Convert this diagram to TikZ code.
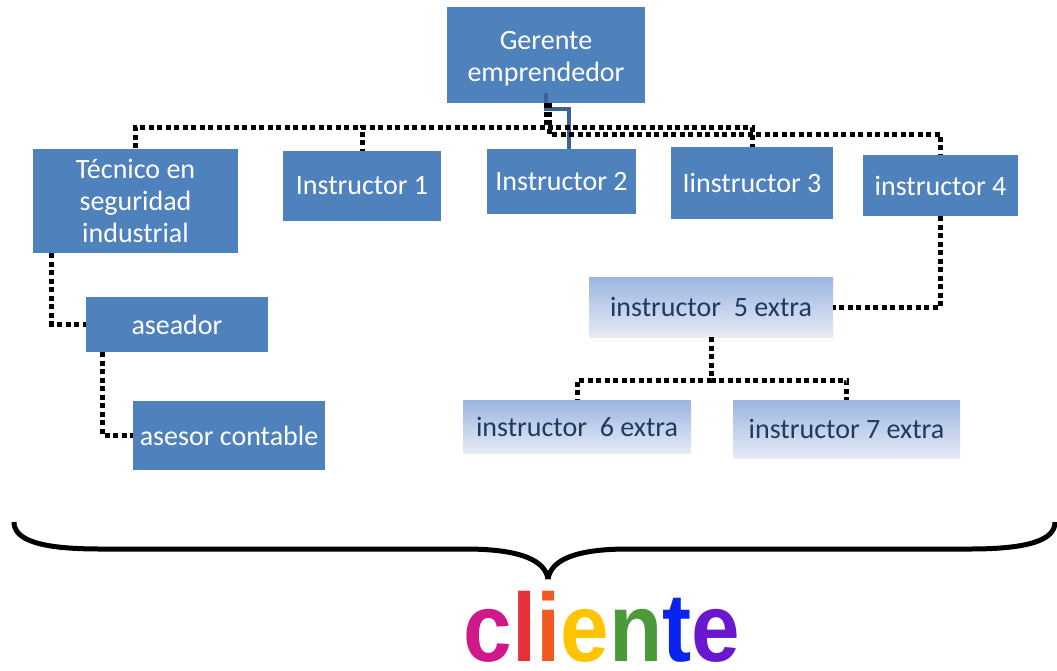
\documentclass[tikz,border=0pt]{standalone}
\usepackage{fontspec}
\usepackage{graphicx}
\setmainfont{Carlito}
\newfontfamily\clifont{Liberation Sans}
\definecolor{boxblue}{HTML}{4F81BD}
\definecolor{linkblue}{HTML}{3A6496}
\definecolor{gtop}{HTML}{9CB5E0}
\definecolor{gbot}{HTML}{E6EBF6}
\definecolor{navytxt}{HTML}{1F3A60}
\definecolor{cA}{HTML}{D0188A}
\definecolor{cB}{HTML}{E8303A}
\definecolor{cC}{HTML}{F05A20}
\definecolor{cD}{HTML}{FFC400}
\definecolor{cE}{HTML}{4A9A3A}
\definecolor{cF}{HTML}{0A24F0}
\definecolor{cG}{HTML}{6A18D0}
\tikzset{
  orgbox/.style={fill=boxblue, text=white, font=\fontsize{28}{32}\selectfont, align=center, inner sep=0pt},
  extrabox/.style={top color=gtop, bottom color=gbot, text=navytxt, font=\fontsize{28}{32}\selectfont, align=center, inner sep=0pt},
  dotlink/.style={line width=5pt, dash pattern=on 5pt off 3.5pt, black},
  bluelink/.style={line width=4pt, linkblue},
  bracestroke/.style={line width=5pt, black}
}
\begin{document}
\begin{tikzpicture}[x=1pt,y=-1pt]
\useasboundingbox (0,0) rectangle (1057,670);
% nodes
\node[orgbox, minimum width=198pt, minimum height=96pt] (ger) at (546,55) {\rule{0pt}{26pt}Gerente\\emprendedor};
\node[orgbox, minimum width=205pt, minimum height=104pt] (tec) at (135.5,201) {Técnico en\\seguridad\\industrial};
\node[orgbox, minimum width=158pt, minimum height=70pt] (i1) at (362,186) {Instructor 1};
\node[orgbox, minimum width=149pt, minimum height=65pt] (i2) at (561.5,181.5) {Instructor 2};
\node[orgbox, minimum width=162pt, minimum height=72pt] (i3) at (752,183) {Iinstructor 3};
\node[orgbox, minimum width=155pt, minimum height=61pt] (i4) at (940.5,185.5) {instructor 4};
\node[orgbox, minimum width=182pt, minimum height=55pt] (ase) at (177,324.5) {aseador};
\node[orgbox, minimum width=192pt, minimum height=69pt] (ases) at (229,435.5) {asesor contable};
\node[extrabox, minimum width=244pt, minimum height=60pt] (i5) at (711,307) {instructor\ \ 5 extra};
\node[extrabox, minimum width=228pt, minimum height=53pt] (i6) at (577,426.5) {instructor\ \ 6 extra};
\node[extrabox, minimum width=227pt, minimum height=58pt] (i7) at (846.5,429) {instructor 7 extra};
% connectors
\draw[bluelink] ([yshift=10pt]ger.south) -- ++(0,16) -| ([xshift=7pt]i2.north);
\draw[dotlink] (ger.south) -- ++(0,24) -| (tec.north);
\draw[dotlink] (ger.south) -- ++(0,24) -| (i1.north);
\draw[dotlink] (ger.south) -- ++(0,24) -| (i3.north);
\draw[dotlink] ([xshift=3pt]ger.south) -- ++(0,31) -| (i4.north);
\draw[dotlink] ([xshift=19pt]tec.south west) |- (ase.west);
\draw[dotlink] ([xshift=17pt]ase.south west) |- (ases.west);
\draw[dotlink] (i4.south) |- (i5.east);
\draw[dotlink] (i5.south) -- ++(0,43) -| (i6.north);
\draw[dotlink] (i5.south) -- ++(0,43) -| (i7.north);
% brace
\draw[bracestroke] (14,522) .. controls (14,540) and (40,549) .. (100,549) -- (465,549) .. controls (520,549) and (545,560) .. (548,579);
\draw[bracestroke] (1055,522) .. controls (1055,540) and (1029,549) .. (970,549) -- (628,549) .. controls (575,549) and (551,560) .. (548,579);
% cliente
\node[anchor=base, inner sep=0pt, font=\clifont\bfseries\fontsize{97}{97}\selectfont] (cli) at (602,661)
  {\scalebox{0.9}[1]{\textcolor{cA}{c}\textcolor{cB}{l}\textcolor{cC}{i}\textcolor{cD}{e}\textcolor{cE}{n}\textcolor{cF}{t}\textcolor{cG}{e}}};
\end{tikzpicture}
\end{document}
